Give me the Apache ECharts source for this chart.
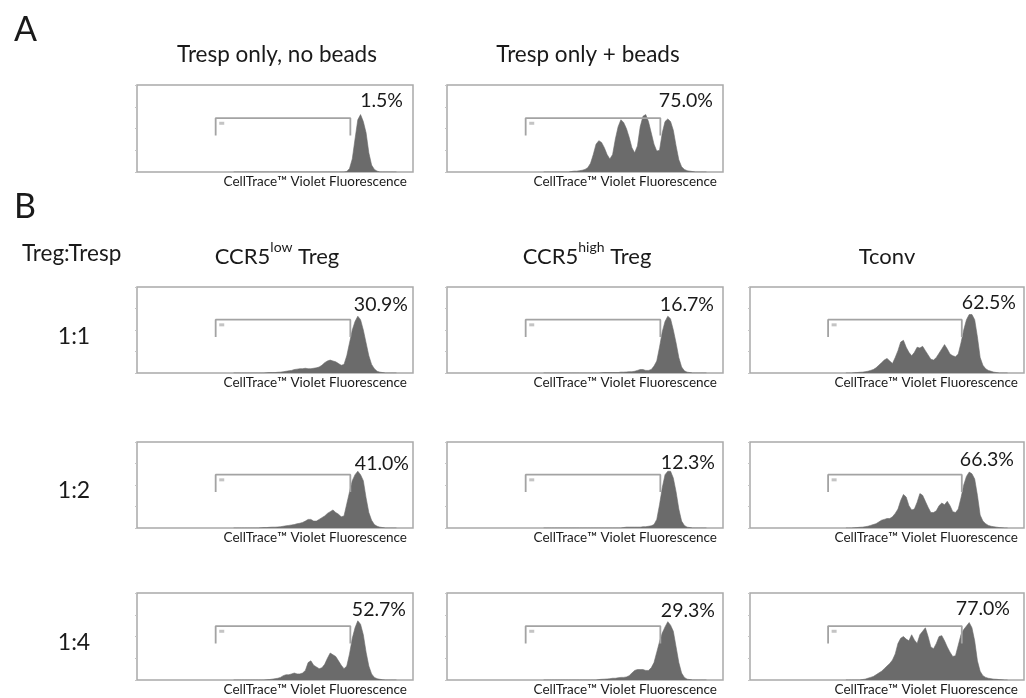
<!DOCTYPE html>
<html><head><meta charset="utf-8">
<script src="https://cdn.jsdelivr.net/npm/echarts@6/dist/echarts.min.js"></script>
<style>html,body{margin:0;padding:0;background:#fff}#c{width:1026px;height:698px}</style>
</head><body><div id="c"></div>
<script>
// ---------- DATA (histogram heights, % of panel height; bins from x = 35 .. 94) ----------
const binStart = 35;
const histNoBeads = [0,0,0,0,0,0,0,0,0,0, 0,0,0,0,0,0,0,0,0,0, 0,0,0,0,0,0,0,0,0,0, 0,0,0,0,0,0,0,0,0,0, 0,
  0.5,4,15,38,60,66,58,45,22,8,3,1, 0,0,0,0,0,0,0];
const histBeads = [0,0,0,0,0,0,0,0,0,0,
  0.5,1,1,1.5,2,3,5,10,20,32,36,34,28,20,15,20,38,52,60,57,50,40,28,22,30,52,64,66,58,45,32,24,25,45,58,61,58,48,30,14,6,3,1.5,1,0.5,
  0,0,0,0,0];
const histLow11 = [0,0,0,0,0,0,0,0,0,0,0,0,
  0.3,0.5,0.5,0.5,0.8,1,1.5,2,2.5,3,4,4.5,5,5,5.5,5,5,5.5,6,7,9,12,14,15,14,13,11,9,10,20,35,50,60,66,62,50,35,20,10,5,2,1,0.5,
  0,0,0,0,0];
const histHigh11 = [0,0,0,0,0,0,0,0,0,0, 0,0,0,0,0,0,0,0,0,0, 0,
  0.3,0.5,0.5,0.5,0.5,0.5,0.5,1,1,1.2,1.5,1.5,2,3,4,4,3,3,4,8,14,30,48,60,66,63,50,35,18,7,2.5,1,0.5,
  0,0,0,0,0,0];
const histTconv11 = [0,0,0,
  0.3,0.5,0.8,1,1.5,2,3,4,6,9,12,15,17,14,11,18,26,36,38,30,24,20,24,30,29,31,26,21,16,15,18,23,28,33,28,22,20,19,22,35,50,62,68,68,62,42,18,9,5,3,2,1,0.5,
  0,0,0,0];
const histLow12 = [0,0,0,0,0,0,0,0,0,0,
  0.3,0.5,0.5,0.8,1,1,1.2,1.5,2,2.5,3,3.5,4,5,5.5,6.5,8,10,10,8,8,10,12,14,17,19,21,18,16,13,14,28,42,55,62,66,62,55,35,18,9,4,2,1,0.5,
  0,0,0,0,0];
const histHigh12 = [0,0,0,0,0,0,0,0,0,0, 0,0,0,0,0,0,0,0,0,0, 0,0,0,0,0,0,0,0,0,
  0.5,1,1,1,1,1,1,1.5,1.5,2,2.5,4,10,27,47,62,66,66,58,42,22,8,3,1,0.5,
  0,0,0,0,0,0];
const histTconv12 = [0,0,0,
  0.3,0.5,0.8,1,1.5,2,3,4,5,7,9,10,11,11,13,17,22,32,39,36,26,21,22,30,40,38,31,24,18,18,20,26,29,27,31,26,19,18,22,35,50,60,65,63,57,38,15,8,5,3,2,1.5,1,0.5,0.3,
  0,0];
const histLow14 = [0,0,0,0,0,0,0,0,0,0,0,0,
  0.3,0.5,1,1.5,2,3,5,6,6,7,8,7,7,8,11,20,22,17,15,13,14,18,25,31,29,27,22,17,13,16,30,48,60,68,64,52,32,16,7,3,1.5,0.8,0.3,
  0,0,0,0,0];
const histHigh14 = [0,0,0,0,0,0,0,0,0,0, 0,0,0,0,0,0,0,0,0,0,
  0.5,0.8,1,1.2,1.5,2,2,2.5,3,3,3.5,5,8,11,12,12,12,11,11,14,20,32,44,54,61,67,63,56,38,20,8,3,1,0.5,
  0,0,0,0,0,0];
const histTconv14 = [0,0,0,0,0,0,
  0.5,1,2,3,4,6,8,10,13,16,19,23,30,42,48,50,47,45,52,46,42,52,56,60,50,38,36,42,50,51,45,38,32,27,28,40,52,58,62,66,60,45,22,10,5,3,2,1.5,1,0.8,0.5,0.3,
  0,0];

const pctLabels = ['1.5%', '75.0%', '30.9%', '16.7%', '62.5%', '41.0%', '12.3%', '66.3%', '52.7%', '29.3%', '77.0%'];
const topHeaders = ['Tresp only, no beads', 'Tresp only + beads'];
const colHeaders = [['CCR5', 'low', ' Treg'], ['CCR5', 'high', ' Treg'], ['Tconv', '', '']];
const rowLabels = ['1:1', '1:2', '1:4'];
const axisTitle = 'CellTrace™ Violet Fluorescence';
const gateX = [28.5, 77.3];
const gateY = [42, 62];

// ---------- LAYOUT ----------
const colLeft = [137, 447, 750], colWidth = [276, 276, 274];
const rowTop = [85, 287, 442, 593], rowHeight = [87, 86, 86, 87];
const panels = [
  {h: histNoBeads, c: 0, r: 0, off: [10, 15.5]},
  {h: histBeads,   c: 1, r: 0, off: [10, 15.5]},
  {h: histLow11,   c: 0, r: 1, off: [5, 18]},
  {h: histHigh11,  c: 1, r: 1, off: [9, 18]},
  {h: histTconv11, c: 2, r: 1, off: [8, 16]},
  {h: histLow12,   c: 0, r: 2, off: [4, 21.5]},
  {h: histHigh12,  c: 1, r: 2, off: [8, 20.5]},
  {h: histTconv12, c: 2, r: 2, off: [10, 17.5]},
  {h: histLow14,   c: 0, r: 3, off: [7, 17]},
  {h: histHigh14,  c: 1, r: 3, off: [8, 17.5]},
  {h: histTconv14, c: 2, r: 3, off: [14, 16]}
];

const FONT = 'Lato, "Open Sans", sans-serif';
const INK = '#1a1a1a';
const FILL = '#6b6b6b';
const BOX = '#a9a9a9';
const GATE = '#a3a3a3';

const grid = [], xAxis = [], yAxis = [], series = [], graphic = [];

function txt(text, x, y, size, align) {
  return {
    type: 'text', x: x, y: y, silent: true,
    style: {text: text, fontSize: size, fontFamily: FONT, fill: INK,
            align: align || 'center', verticalAlign: 'middle',
            textAlign: align || 'center', textVerticalAlign: 'middle'}
  };
}

panels.forEach((p, i) => {
  const left = colLeft[p.c], width = colWidth[p.c], top = rowTop[p.r], height = rowHeight[p.r];
  grid.push({left: left, top: top, width: width, height: height, show: true,
             borderColor: BOX, borderWidth: 1.5, backgroundColor: '#fff'});
  xAxis.push({gridIndex: i, type: 'value', min: 0, max: 100,
              axisLine: {show: false}, axisTick: {show: false}, axisLabel: {show: false}, splitLine: {show: false}});
  yAxis.push({gridIndex: i, type: 'value', min: 0, max: 100, interval: 25,
              axisLine: {show: false}, axisTick: {show: true, length: 2, lineStyle: {color: '#c4c4c4', width: 1}},
              axisLabel: {show: false}, splitLine: {show: false}});
  series.push({
    type: 'line', xAxisIndex: i, yAxisIndex: i, silent: true, showSymbol: false, symbol: 'none',
    data: p.h.map((v, k) => [binStart + k, v]),
    lineStyle: {color: FILL, width: 0.6}, areaStyle: {color: FILL, opacity: 1}, z: 2
  });
  series.push({
    type: 'line', xAxisIndex: i, yAxisIndex: i, silent: true, symbol: 'none',
    data: [[gateX[0], gateY[0]], [gateX[0], gateY[1]], [gateX[1], gateY[1]], [gateX[1], gateY[0]]],
    lineStyle: {color: GATE, width: 1.8}, z: 3
  });
  series.push({
    type: 'scatter', xAxisIndex: i, yAxisIndex: i, silent: true,
    data: [[gateX[0] + 2.2, gateY[1] - 6]], symbol: 'rect', symbolSize: [5, 3],
    itemStyle: {color: '#b5b5b5'}, z: 3
  });
  graphic.push(txt(pctLabels[i], left + width - p.off[0], top + p.off[1], 19.5, 'right'));
  graphic.push(txt(axisTitle, left + width - 6, top + height + 9.5, 13.5, 'right'));
});

// Panel letters, headers
graphic.push(txt('A', 14, 30, 34, 'left'));
graphic.push(txt('B', 14, 207, 34, 'left'));
graphic.push(txt(topHeaders[0], 277, 55, 22.5));
graphic.push(txt(topHeaders[1], 588, 55, 22.5));
graphic.push(txt('Treg:Tresp', 22, 254, 22.5, 'left'));
const headerX = [277, 587, 887];
colHeaders.forEach((h, j) => {
  graphic.push({
    type: 'text', x: headerX[j], y: 254, silent: true,
    style: {
      text: '{n|' + h[0] + '}' + (h[1] ? '{s|' + h[1] + '}' : '') + (h[2] ? '{n|' + h[2] + '}' : ''),
      align: 'center', verticalAlign: 'middle', textAlign: 'center', textVerticalAlign: 'middle',
      fill: INK, fontFamily: FONT, fontSize: 22,
      rich: {
        n: {fontSize: 22, fontFamily: FONT, fill: INK, lineHeight: 28, verticalAlign: 'bottom'},
        s: {fontSize: 14, fontFamily: FONT, fill: INK, lineHeight: 28, verticalAlign: 'top'}
      }
    }
  });
});
const rowLabelY = [337, 491, 643];
rowLabels.forEach((t, j) => graphic.push(txt(t, 74, rowLabelY[j], 23)));

const chart = echarts.init(document.getElementById('c'), null, {renderer: 'canvas'});
chart.setOption({
  animation: false,
  backgroundColor: '#fff',
  grid: grid, xAxis: xAxis, yAxis: yAxis, series: series, graphic: graphic
});
</script></body></html>
